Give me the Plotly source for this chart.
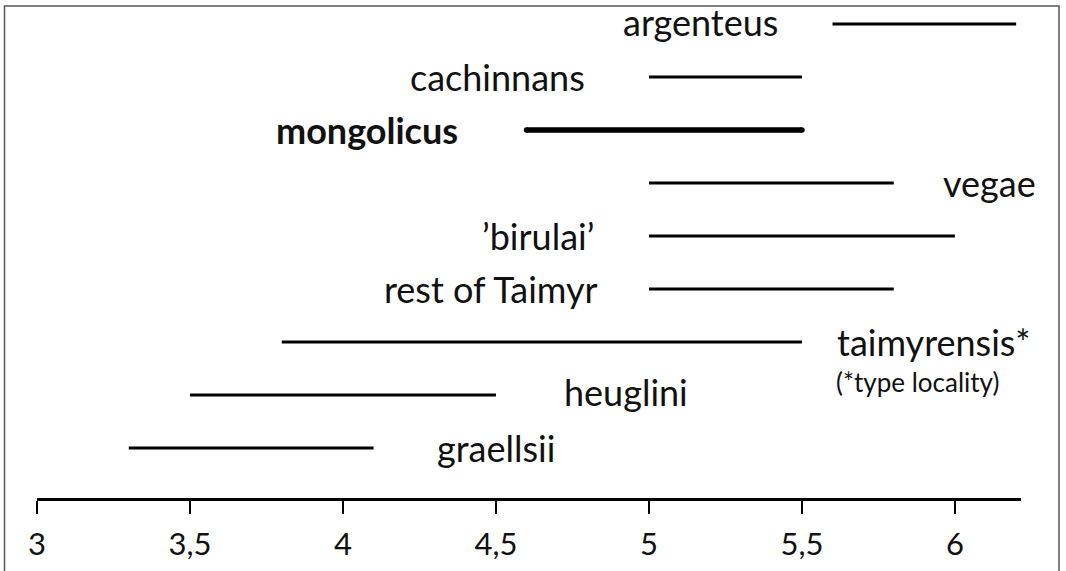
import plotly.graph_objects as go

# Data (top to bottom)
taxa = ["argenteus", "cachinnans", "mongolicus", "vegae", "\u2019birulai\u2019",
        "rest of Taimyr", "taimyrensis*", "heuglini", "graellsii"]
range_start = [5.6, 5.0, 4.6, 5.0, 5.0, 5.0, 3.8, 3.5, 3.3]
range_end = [6.2, 5.5, 5.5, 5.8, 6.0, 5.8, 5.5, 4.5, 4.1]
tick_vals = [3, 3.5, 4, 4.5, 5, 5.5, 6]
tick_text = ["3", "3,5", "4", "4,5", "5", "5,5", "6"]
footnote = "(*type locality)"

# label placement: side of the line and pixel gap
label_side = ["left", "left", "left", "right", "left", "left", "right", "right", "right"]
label_gap = [53, 62, 67, 47, 53, 49, 33, 66, 61]
label_yshift = [2, 0, 0, 0, 0, 0, 0, 3, 0]
bold = [False, False, True, False, False, False, False, False, False]

W, H = 1066, 571
FONT = "Lato"
n = len(taxa)
rows = [n - i for i in range(n)]  # argenteus = 9 ... graellsii = 1

fig = go.Figure()
annotations = []
for i, name in enumerate(taxa):
    y = rows[i]
    lw = 5.5 if bold[i] else 3
    fig.add_trace(go.Scatter(
        x=[range_start[i], range_end[i]], y=[y, y], mode="lines",
        line=dict(color="#000000", width=lw), hoverinfo="skip",
        showlegend=False, cliponaxis=False))
    if bold[i]:
        fig.add_trace(go.Scatter(
            x=[range_start[i], range_end[i]], y=[y, y], mode="markers",
            marker=dict(color="#000000", size=lw, line=dict(width=0)),
            hoverinfo="skip", showlegend=False, cliponaxis=False))
    if label_side[i] == "left":
        ax_x, anchor, shift = range_start[i], "right", -label_gap[i]
    else:
        ax_x, anchor, shift = range_end[i], "left", label_gap[i]
    txt = f"<b>{name}</b>" if bold[i] else name
    annotations.append(dict(
        x=ax_x, y=y, xref="x", yref="y", text=txt, showarrow=False,
        xanchor=anchor, yanchor="middle", xshift=shift, yshift=label_yshift[i],
        font=dict(family=FONT, size=36, color="#111111")))
    if name == "taimyrensis*":
        annotations.append(dict(
            x=ax_x, y=y, xref="x", yref="y", text=footnote, showarrow=False,
            xanchor="left", yanchor="middle", xshift=shift - 1, yshift=-40,
            font=dict(family=FONT, size=26, color="#111111")))

fig.update_layout(
    width=W, height=H,
    margin=dict(l=0, r=0, t=0, b=0, autoexpand=False),
    paper_bgcolor="white", plot_bgcolor="white",
    showlegend=False, hovermode=False,
    annotations=annotations,
    xaxis=dict(
        domain=[37 / W, 1021 / W], range=[3, 6.216],
        anchor="free", position=1 - 499 / H, automargin=False,
        showline=True, linecolor="#000000", linewidth=3,
        ticks="outside", ticklen=13, tickwidth=2.5, tickcolor="#000000",
        tickvals=tick_vals, ticktext=tick_text, ticklabelstandoff=4,
        tickfont=dict(family=FONT, size=31, color="#111111"),
        showgrid=False, zeroline=False, fixedrange=True),
    yaxis=dict(
        domain=[0, 1], range=[1 - (H - 448) / 53, 1 + 448 / 53],
        visible=False, showgrid=False, zeroline=False, fixedrange=True,
        automargin=False),
    shapes=[dict(type="rect", xref="paper", yref="paper",
                 x0=4.5 / W, x1=1059 / W, y0=-0.2, y1=1 - 6 / H,
                 line=dict(color="#555555", width=1.5), fillcolor="rgba(0,0,0,0)")],
)

fig.write_html("out.html", config={"displayModeBar": False, "staticPlot": True},
               post_script="document.body.style.margin='0';document.body.style.overflow='hidden';")
